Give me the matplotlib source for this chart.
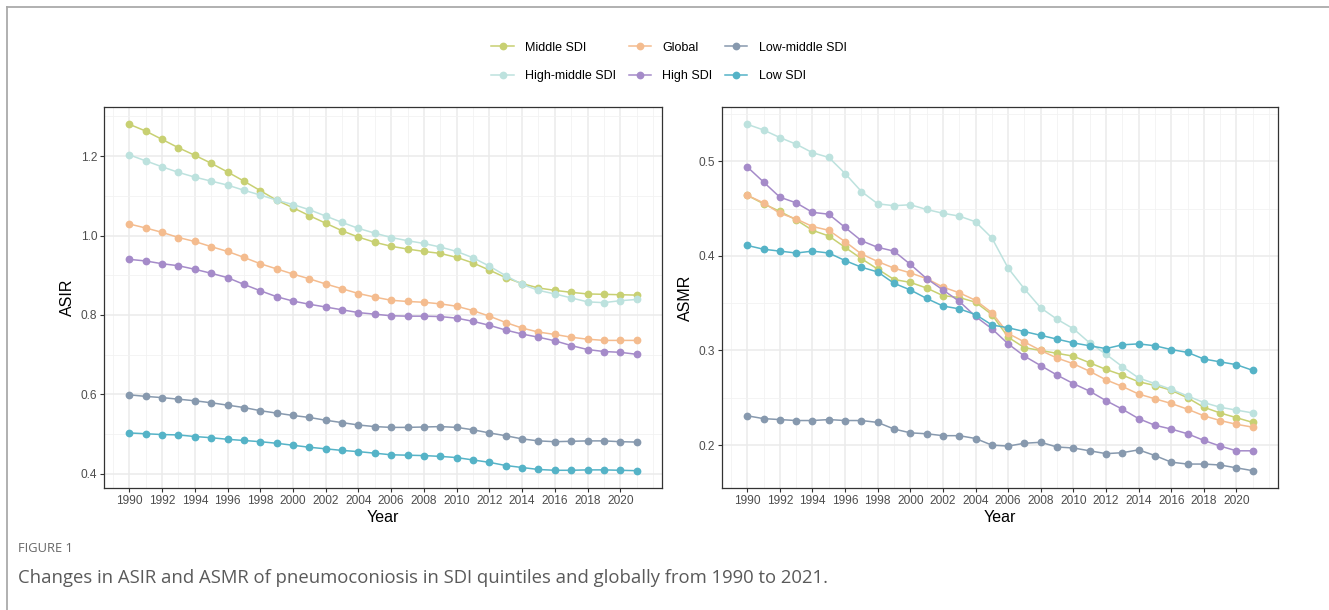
import matplotlib
matplotlib.use("Agg")
import matplotlib.pyplot as plt
from matplotlib.lines import Line2D
import numpy as np

# ── Data ──────────────────────────────────────────────────────────────────────
years = list(range(1990, 2022))

series_names = ["Middle SDI", "High-middle SDI", "Global", "High SDI",
                "Low-middle SDI", "Low SDI"]

asir_middle = [1.280, 1.263, 1.242, 1.221, 1.202, 1.182, 1.160, 1.137, 1.113, 1.089,
               1.070, 1.050, 1.031, 1.012, 0.996, 0.983, 0.973, 0.966, 0.960, 0.955,
               0.945, 0.931, 0.913, 0.894, 0.879, 0.868, 0.862, 0.857, 0.853, 0.852,
               0.851, 0.850]
asir_high_middle = [1.203, 1.188, 1.173, 1.159, 1.147, 1.137, 1.127, 1.114, 1.102, 1.089,
                    1.078, 1.065, 1.049, 1.033, 1.018, 1.006, 0.995, 0.987, 0.980, 0.971,
                    0.960, 0.944, 0.923, 0.899, 0.877, 0.862, 0.853, 0.843, 0.833, 0.831,
                    0.836, 0.839]
asir_global = [1.029, 1.019, 1.008, 0.995, 0.985, 0.972, 0.960, 0.945, 0.929, 0.916,
               0.903, 0.891, 0.878, 0.866, 0.854, 0.845, 0.837, 0.834, 0.832, 0.828,
               0.822, 0.811, 0.797, 0.781, 0.767, 0.757, 0.751, 0.744, 0.739, 0.736,
               0.736, 0.736]
asir_high = [0.940, 0.936, 0.929, 0.924, 0.915, 0.905, 0.894, 0.877, 0.861, 0.846,
             0.835, 0.827, 0.820, 0.813, 0.806, 0.802, 0.798, 0.797, 0.797, 0.796,
             0.792, 0.784, 0.774, 0.762, 0.752, 0.744, 0.735, 0.723, 0.713, 0.708,
             0.706, 0.701]
asir_low_middle = [0.599, 0.595, 0.592, 0.588, 0.584, 0.579, 0.573, 0.567, 0.559, 0.553,
                   0.547, 0.542, 0.535, 0.529, 0.523, 0.519, 0.517, 0.517, 0.518, 0.519,
                   0.517, 0.511, 0.503, 0.496, 0.488, 0.483, 0.481, 0.482, 0.483, 0.483,
                   0.481, 0.480]
asir_low = [0.503, 0.501, 0.499, 0.498, 0.494, 0.491, 0.487, 0.484, 0.481, 0.477,
            0.472, 0.467, 0.463, 0.459, 0.456, 0.452, 0.448, 0.447, 0.446, 0.444,
            0.441, 0.435, 0.429, 0.421, 0.416, 0.411, 0.409, 0.409, 0.410, 0.410,
            0.409, 0.408]

asmr_middle = [0.464, 0.455, 0.447, 0.438, 0.427, 0.421, 0.409, 0.397, 0.386, 0.375,
               0.372, 0.366, 0.358, 0.356, 0.351, 0.338, 0.314, 0.303, 0.300, 0.297,
               0.294, 0.287, 0.280, 0.274, 0.267, 0.263, 0.258, 0.250, 0.240, 0.234,
               0.229, 0.224]
asmr_high_middle = [0.539, 0.533, 0.525, 0.518, 0.509, 0.504, 0.487, 0.468, 0.455, 0.453,
                    0.454, 0.449, 0.445, 0.442, 0.436, 0.419, 0.387, 0.365, 0.345, 0.333,
                    0.323, 0.308, 0.296, 0.283, 0.271, 0.265, 0.259, 0.252, 0.245, 0.240,
                    0.237, 0.234]
asmr_global = [0.464, 0.456, 0.445, 0.439, 0.431, 0.427, 0.415, 0.402, 0.394, 0.387,
               0.382, 0.376, 0.367, 0.361, 0.353, 0.340, 0.318, 0.309, 0.300, 0.292,
               0.286, 0.278, 0.269, 0.262, 0.254, 0.249, 0.244, 0.238, 0.231, 0.226,
               0.222, 0.219]
asmr_high = [0.494, 0.478, 0.462, 0.456, 0.446, 0.444, 0.430, 0.416, 0.409, 0.405,
             0.391, 0.376, 0.364, 0.352, 0.336, 0.323, 0.307, 0.294, 0.284, 0.274,
             0.265, 0.257, 0.247, 0.238, 0.228, 0.221, 0.217, 0.212, 0.205, 0.199,
             0.194, 0.194]
asmr_low_middle = [0.231, 0.228, 0.227, 0.226, 0.226, 0.227, 0.226, 0.226, 0.224, 0.217,
                   0.213, 0.212, 0.210, 0.210, 0.207, 0.200, 0.199, 0.202, 0.203, 0.198,
                   0.197, 0.194, 0.191, 0.192, 0.195, 0.189, 0.182, 0.180, 0.180, 0.179,
                   0.176, 0.173]
asmr_low = [0.411, 0.407, 0.405, 0.403, 0.405, 0.403, 0.395, 0.388, 0.383, 0.371,
            0.364, 0.355, 0.347, 0.344, 0.338, 0.327, 0.324, 0.320, 0.316, 0.312,
            0.308, 0.305, 0.302, 0.306, 0.307, 0.305, 0.301, 0.298, 0.291, 0.288,
            0.285, 0.279]

asir_series = [asir_middle, asir_high_middle, asir_global, asir_high,
               asir_low_middle, asir_low]
asmr_series = [asmr_middle, asmr_high_middle, asmr_global, asmr_high,
               asmr_low_middle, asmr_low]

colors = ["#C8D072", "#BDE2DE", "#F4BC8F", "#A58BC9", "#8799AE", "#55B3C7"]

x_ticks = list(range(1990, 2021, 2))
x_minor = list(range(1989, 2022, 2)) + [2022]
asir_ticks = [0.4, 0.6, 0.8, 1.0, 1.2]
asir_minor = [0.5, 0.7, 0.9, 1.1, 1.3]
asmr_ticks = [0.2, 0.3, 0.4, 0.5]
asmr_minor = [0.25, 0.35, 0.45, 0.55]

# ── Style ─────────────────────────────────────────────────────────────────────
plt.rcParams["font.family"] = ["Liberation Sans", "DejaVu Sans"]

W, H = 1329, 610
fig = plt.figure(figsize=(W / 100, H / 100), dpi=100)
fig.patch.set_facecolor("white")


def px_box(x0, y0, x1, y1):
    return [x0 / W, 1 - y1 / H, (x1 - x0) / W, (y1 - y0) / H]


def style_panel(ax, series, ylabel, yticks, yminor):
    for vals, c in zip(series, colors):
        ax.plot(years, vals, color=c, lw=1.1, marker="o", ms=5.6,
                markeredgewidth=0, zorder=3)

    lo = min(min(v) for v in series)
    hi = max(max(v) for v in series)
    pad = (hi - lo) * 0.05
    ax.set_ylim(lo - pad, hi + pad)
    ax.set_xlim(1990 - 31 * 0.05, 2021 + 31 * 0.05)

    ax.set_xticks(x_ticks)
    ax.set_xticks(x_minor, minor=True)
    ax.set_yticks(yticks)
    ax.set_yticks(yminor, minor=True)
    ax.set_yticklabels([f"{t:.1f}" for t in yticks])

    ax.grid(True, which="major", color="#EBEBEB", lw=1.1, zorder=0)
    ax.grid(True, which="minor", color="#F2F2F2", lw=0.6, zorder=0)
    ax.set_axisbelow(True)

    ax.tick_params(which="major", length=3, width=0.8, color="#333333",
                   labelsize=8.6, labelcolor="#4D4D4D", pad=2)
    ax.tick_params(which="minor", length=0)
    for sp in ax.spines.values():
        sp.set_edgecolor("#333333")
        sp.set_linewidth(0.9)

    ax.set_xlabel("Year", fontsize=11.5, color="black", labelpad=2)
    ax.set_ylabel(ylabel, fontsize=11.5, color="black", labelpad=4)


ax1 = fig.add_axes(px_box(104, 107, 662, 488))
style_panel(ax1, asir_series, "ASIR", asir_ticks, asir_minor)

ax2 = fig.add_axes(px_box(722, 107, 1278, 488))
style_panel(ax2, asmr_series, "ASMR", asmr_ticks, asmr_minor)

# ── Legend ────────────────────────────────────────────────────────────────────
handles = [Line2D([0], [0], color=c, lw=1.1, marker="o", ms=5.6,
                  markeredgewidth=0) for c in colors]
fig.legend(handles, series_names, ncol=3, loc="center",
           bbox_to_anchor=(669 / W, 1 - 62 / H), frameon=False,
           fontsize=9, handlelength=1.8, handletextpad=0.9,
           columnspacing=1.0, labelspacing=1.35)

# ── Outer frame (top + left edge) ────────────────────────────────────────────
fig.add_artist(Line2D([7 / W, 7 / W], [0, 1 - 7 / H], transform=fig.transFigure,
                      color="#AAAAAA", lw=1.3))
fig.add_artist(Line2D([7 / W, 1], [1 - 7 / H, 1 - 7 / H], transform=fig.transFigure,
                      color="#AAAAAA", lw=1.3))

# ── Caption ───────────────────────────────────────────────────────────────────
fig.text(18 / W, 1 - 549 / H, "FIGURE 1", fontsize=9.3, color="#666666",
         family=["Open Sans", "DejaVu Sans"], va="center", ha="left")
fig.text(18 / W, 1 - 578 / H,
         "Changes in ASIR and ASMR of pneumoconiosis in SDI quintiles and globally from 1990 to 2021.",
         fontsize=13.3, color="#5A5A5A", family=["Open Sans", "DejaVu Sans"],
         va="center", ha="left")

fig.savefig("out.png", dpi=100)
